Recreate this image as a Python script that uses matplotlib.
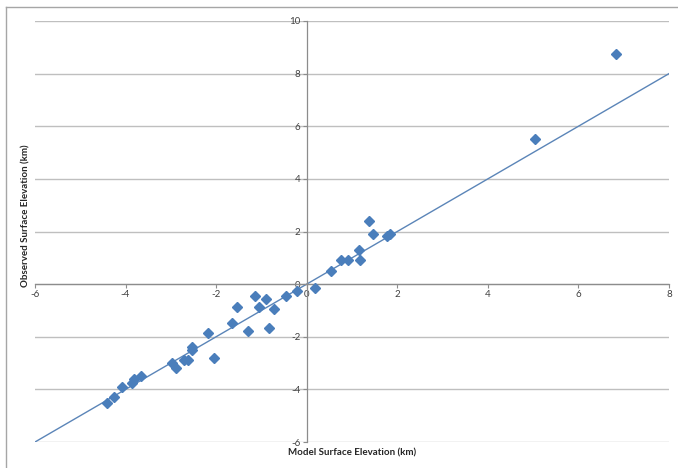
import matplotlib
matplotlib.use("Agg")
import matplotlib.pyplot as plt
from matplotlib.lines import Line2D

plt.rcParams['font.family'] = ['Lato', 'DejaVu Sans']

# Data
model_elev = [-4.41, -4.25, -4.07, -3.86, -3.81, -3.65, -2.97, -2.88, -2.70, -2.63,
              -2.54, -2.54, -2.17, -2.05, -1.66, -1.53, -1.29, -1.14, -1.06, -0.91,
              -0.83, -0.73, -0.45, -0.21, 0.18, 0.53, 0.76, 0.92, 1.16, 1.17,
              1.37, 1.47, 1.77, 1.85, 5.05, 6.84]
obs_elev = [-4.51, -4.30, -3.91, -3.77, -3.60, -3.49, -2.98, -3.20, -2.89, -2.89,
            -2.40, -2.51, -1.86, -2.79, -1.48, -0.86, -1.78, -0.45, -0.86, -0.57,
            -1.67, -0.96, -0.45, -0.26, -0.16, 0.51, 0.90, 0.90, 1.31, 0.90,
            2.41, 1.91, 1.81, 1.90, 5.51, 8.73]
line_x = [-6, 8]
line_y = [-6, 8]
x_ticks = [-6, -4, -2, 0, 2, 4, 6, 8]
y_ticks = [-6, -4, -2, 0, 2, 4, 6, 8, 10]

W, H = 678, 468
fig = plt.figure(figsize=(W / 100, H / 100), dpi=100)
fig.patch.set_facecolor('white')

# outer chart border (top and left visible)
fig.add_artist(Line2D([6 / W, 6 / W], [0, 1 - 7 / H], transform=fig.transFigure,
                      color='#a6a6a6', lw=1.0))
fig.add_artist(Line2D([6 / W, 1], [1 - 7 / H, 1 - 7 / H], transform=fig.transFigure,
                      color='#a6a6a6', lw=1.0))

left, right, top, bottom = 35, 669, 21, 442
ax = fig.add_axes([left / W, 1 - bottom / H, (right - left) / W, (bottom - top) / H])
ax.set_xlim(-6, 8)
ax.set_ylim(-6, 10)

for s in ['top', 'right']:
    ax.spines[s].set_visible(False)
ax.spines['left'].set_position(('data', 0))
ax.spines['bottom'].set_position(('data', 0))
for s in ['left', 'bottom']:
    ax.spines[s].set_color('#8c8c8c')
    ax.spines[s].set_linewidth(0.9)

ax.set_xticks(x_ticks)
ax.set_yticks(y_ticks)
ax.set_xticklabels([str(t) for t in x_ticks])
ax.set_yticklabels([str(t) for t in y_ticks])
ax.tick_params(axis='both', direction='out', length=3, width=0.8, color='#8c8c8c',
               labelsize=7, labelcolor='#404040', pad=1.5)

ax.grid(axis='y', color='#bfbfbf', linewidth=1.0)
ax.set_axisbelow(True)

ax.plot(line_x, line_y, color='#5b85b8', linewidth=1.0, zorder=2)
ax.plot(model_elev, obs_elev, linestyle='none', marker='D', markersize=5.3,
        color='#4a7ebb', markeredgecolor='#4a7ebb', zorder=3)

fig.text(352 / W, 1 - 453 / H, 'Model Surface Elevation (km)', ha='center', va='center',
         fontsize=7, fontweight='bold', color='#262626')
fig.text(26 / W, 1 - 216 / H, 'Observed Surface Elevation (km)', ha='center', va='center',
         rotation=90, fontsize=7, fontweight='bold', color='#262626')

fig.savefig('out.png', dpi=100, facecolor='white')
